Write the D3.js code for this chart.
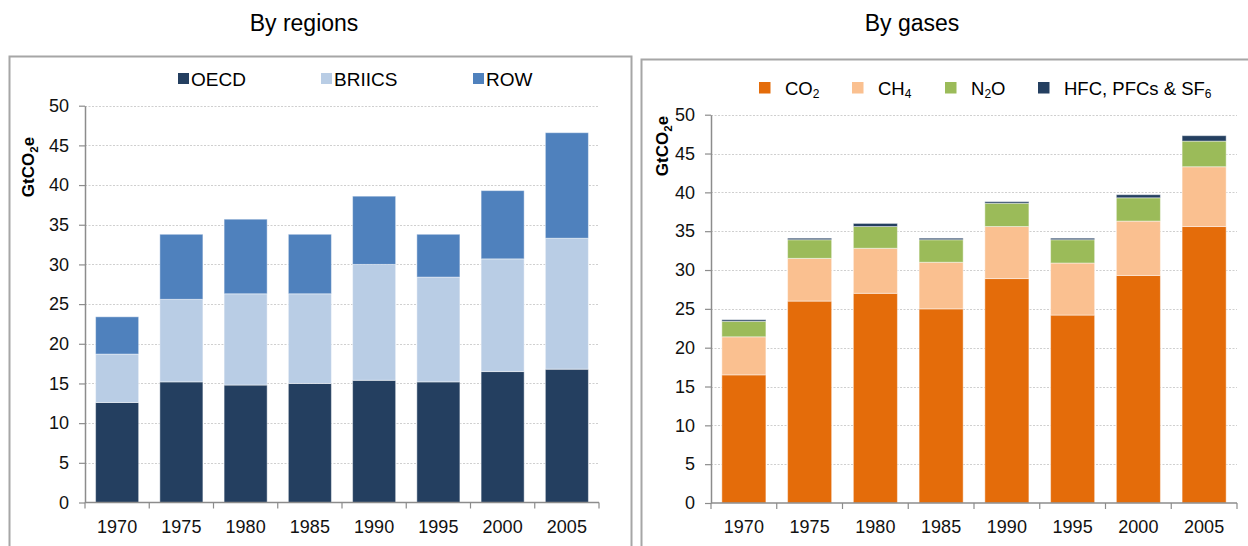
<!DOCTYPE html>
<html>
<head>
<meta charset="utf-8">
<script src="https://cdn.jsdelivr.net/npm/d3@7"></script>
<style>
  html, body { margin: 0; padding: 0; background: #fff; }
  svg { display: block; font-family: "Liberation Sans", Arial, sans-serif; }
</style>
</head>
<body>
<svg id="chart" width="1248" height="546"></svg>
<script>
// ---- data ----
const years = ["1970", "1975", "1980", "1985", "1990", "1995", "2000", "2005"];
const yTicks = [0, 5, 10, 15, 20, 25, 30, 35, 40, 45, 50];

// By regions (GtCO2e)
const oecd   = [12.6, 15.2, 14.8, 15.0, 15.4, 15.2, 16.5, 16.8];
const briics = [6.1, 10.4, 11.5, 11.3, 14.6, 13.2, 14.2, 16.5];
const row    = [4.7, 8.2, 9.4, 7.5, 8.6, 5.4, 8.6, 13.3];

// By gases (GtCO2e)
const co2 = [16.5, 26.0, 27.0, 25.0, 28.9, 24.2, 29.3, 35.6];
const ch4 = [4.9, 5.5, 5.8, 6.0, 6.7, 6.7, 7.0, 7.7];
const n2o = [2.0, 2.4, 2.8, 2.9, 3.0, 3.0, 3.0, 3.3];
const hfc = [0.2, 0.2, 0.4, 0.2, 0.2, 0.2, 0.4, 0.7];

const regionSeries = [
  { key: "OECD", values: oecd, color: "#243F60" },
  { key: "BRIICS", values: briics, color: "#B9CDE5" },
  { key: "ROW", values: row, color: "#4F81BD" }
];
const gasSeries = [
  { key: "CO2", label: ["CO", "2", ""], values: co2, color: "#E46C0A" },
  { key: "CH4", label: ["CH", "4", ""], values: ch4, color: "#FAC090" },
  { key: "N2O", label: ["N", "2", "O"], values: n2o, color: "#9BBB59" },
  { key: "HFC", label: ["HFC, PFCs & SF", "6", ""], values: hfc, color: "#243F60" }
];

const svg = d3.select("#chart");

// panel frames
svg.append("rect").attr("x", 9.5).attr("y", 56.5).attr("width", 622).attr("height", 510)
  .attr("fill", "none").attr("stroke", "#a6a6a6").attr("stroke-width", 2);
svg.append("rect").attr("x", 641.5).attr("y", 59.5).attr("width", 640).attr("height", 510)
  .attr("fill", "none").attr("stroke", "#a6a6a6").attr("stroke-width", 2);

// titles
svg.append("text").attr("x", 304).attr("y", 31).attr("text-anchor", "middle")
  .attr("font-size", 23).attr("fill", "#000").text("By regions");
svg.append("text").attr("x", 912).attr("y", 31).attr("text-anchor", "middle")
  .attr("font-size", 23).attr("fill", "#000").text("By gases");

function panel(cfg) {
  const g = svg.append("g");
  const x = d3.scaleBand().domain(years).range([cfg.x0, cfg.x1])
    .paddingInner(0.33).paddingOuter(0.165);
  const y = d3.scaleLinear().domain([0, 50]).range([cfg.y0, cfg.y50]);

  // gridlines
  g.append("g").selectAll("line").data(yTicks.filter(d => d > 0)).join("line")
    .attr("x1", cfg.x0).attr("x2", cfg.x1)
    .attr("y1", d => Math.round(y(d)) + 0.5).attr("y2", d => Math.round(y(d)) + 0.5)
    .attr("stroke", "#cfcfcf").attr("stroke-width", 1).attr("stroke-dasharray", "2,1.5");

  // stacked bars
  const table = years.map((yr, i) => {
    const o = { year: yr };
    cfg.series.forEach(s => o[s.key] = s.values[i]);
    return o;
  });
  const stacked = d3.stack().keys(cfg.series.map(s => s.key))(table);
  g.append("g").selectAll("g").data(stacked).join("g")
    .attr("fill", (d, i) => cfg.series[i].color)
    .selectAll("rect").data(d => d).join("rect")
    .attr("x", d => x(d.data.year))
    .attr("width", x.bandwidth())
    .attr("y", d => y(d[1]))
    .attr("height", d => y(d[0]) - y(d[1]))
    .attr("stroke", "rgba(255,255,255,0.45)").attr("stroke-width", 1);

  // y axis
  const ya = g.append("g").attr("transform", `translate(${cfg.x0},0)`)
    .call(d3.axisLeft(y).tickValues(yTicks).tickSize(6).tickSizeOuter(0).tickPadding(10));
  ya.select(".domain").attr("stroke", "#8c8c8c").attr("stroke-width", 1.5);
  ya.selectAll(".tick line").attr("stroke", "#8c8c8c").attr("stroke-width", 1.2);
  ya.selectAll(".tick text").attr("font-size", 18).attr("fill", "#111")
    .attr("font-family", "Liberation Sans, Arial, sans-serif");

  // x axis: line, boundary ticks, centered labels
  const xa = g.append("g");
  xa.append("line").attr("x1", cfg.x0).attr("x2", cfg.x1)
    .attr("y1", cfg.y0).attr("y2", cfg.y0).attr("stroke", "#8c8c8c").attr("stroke-width", 1.5);
  const half = (x.step() - x.bandwidth()) / 2;
  const bounds = years.map(d => x(d) - half).concat([cfg.x1]);
  xa.selectAll("line.tk").data(bounds).join("line").attr("class", "tk")
    .attr("x1", d => d).attr("x2", d => d)
    .attr("y1", cfg.y0).attr("y2", cfg.y0 + 6)
    .attr("stroke", "#8c8c8c").attr("stroke-width", 1.2);
  xa.selectAll("text").data(years).join("text")
    .attr("x", d => x(d) + x.bandwidth() / 2).attr("y", cfg.y0 + 30)
    .attr("text-anchor", "middle").attr("font-size", 18).attr("fill", "#111")
    .text(d => d);

  // y axis title
  const t = g.append("text")
    .attr("transform", `translate(${cfg.titleX},${cfg.titleY}) rotate(-90)`)
    .attr("text-anchor", "middle").attr("font-size", 17).attr("font-weight", "bold").attr("fill", "#000");
  t.append("tspan").text("GtCO");
  t.append("tspan").attr("font-size", 11.5).attr("dy", 4).text("2");
  t.append("tspan").attr("dy", -4).text("e");

  return { x, y };
}

panel({ x0: 85, x1: 599, y0: 502.5, y50: 105.7, series: regionSeries, titleX: 34, titleY: 167 });
panel({ x0: 711, x1: 1237, y0: 503, y50: 114.7, series: gasSeries, titleX: 668, titleY: 146 });

// legends
const legL = [
  { s: regionSeries[0], sx: 178 },
  { s: regionSeries[1], sx: 321 },
  { s: regionSeries[2], sx: 473 }
];
const lg = svg.append("g");
lg.selectAll("rect").data(legL).join("rect")
  .attr("x", d => d.sx).attr("y", 73).attr("width", 11).attr("height", 11)
  .attr("fill", d => d.s.color);
lg.selectAll("text").data(legL).join("text")
  .attr("x", d => d.sx + 13).attr("y", 86).attr("font-size", 19).attr("fill", "#000")
  .text(d => d.s.key);

const legR = [
  { s: gasSeries[0], sx: 759 },
  { s: gasSeries[1], sx: 852 },
  { s: gasSeries[2], sx: 945 },
  { s: gasSeries[3], sx: 1038 }
];
const rg = svg.append("g");
rg.selectAll("rect").data(legR).join("rect")
  .attr("x", d => d.sx).attr("y", 82).attr("width", 11.5).attr("height", 11.5)
  .attr("fill", d => d.s.color);
rg.selectAll("text").data(legR).join("text")
  .attr("x", d => d.sx + 26).attr("y", 95).attr("font-size", 18.5).attr("fill", "#000")
  .each(function (d) {
    const el = d3.select(this);
    el.append("tspan").text(d.s.label[0]);
    el.append("tspan").attr("font-size", 12).attr("dy", 3).text(d.s.label[1]);
    if (d.s.label[2]) el.append("tspan").attr("dy", -3).text(d.s.label[2]);
  });
</script>
</body>
</html>
